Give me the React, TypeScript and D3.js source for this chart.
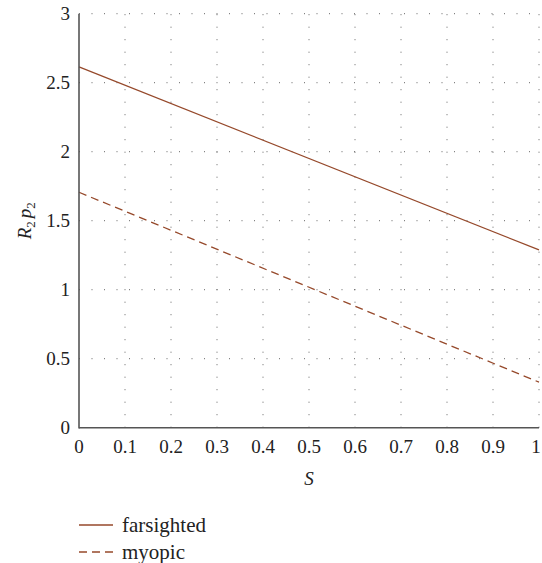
import React from 'react';
import * as d3 from 'd3';

const sValues = [0, 1];
const farsighted = [2.614, 1.288];
const myopic = [1.706, 0.33];
const xTicks = [0, 0.1, 0.2, 0.3, 0.4, 0.5, 0.6, 0.7, 0.8, 0.9, 1];
const yTicks = [0, 0.5, 1, 1.5, 2, 2.5, 3];
const seriesNames = ['farsighted', 'myopic'];

const W = 542;
const H = 563;
const margin = { top: 13.7, right: 3, bottom: 135.3, left: 79 };
const lineColor = '#96492b';
const txt = { fontFamily: 'Liberation Serif' };

export default function App() {
  const x = d3.scaleLinear().domain([0, 1]).range([margin.left, W - margin.right]);
  const y = d3.scaleLinear().domain([0, 3]).range([H - margin.bottom, margin.top]);

  const line = d3
    .line<number>()
    .x((_, i) => x(sValues[i]))
    .y((d) => y(d));

  const x0 = x(0);
  const x1 = x(1);
  const y0 = y(0);
  const y1 = y(3);

  return (
    <svg width={W} height={H} style={{ position: 'absolute', left: 0, top: 0 }}>
      {/* grid */}
      {xTicks.slice(1).map((t) => (
        <line key={'gx' + t} x1={x(t)} x2={x(t)} y1={y0} y2={y1} stroke="#666" strokeWidth={1} strokeDasharray="1 11.5" />
      ))}
      {yTicks.slice(1).map((t) => (
        <line key={'gy' + t} x1={x0} x2={x1} y1={y(t)} y2={y(t)} stroke="#666" strokeWidth={1} strokeDasharray="1 11.5" />
      ))}

      {/* series */}
      <path d={line(farsighted) || ''} fill="none" stroke={lineColor} strokeWidth={1.3} />
      <path d={line(myopic) || ''} fill="none" stroke={lineColor} strokeWidth={1.3} strokeDasharray="8 5" />

      {/* axes */}
      <line x1={x0} x2={x0} y1={y1} y2={y0 + 0.8} stroke="#555" strokeWidth={1.6} />
      <line x1={x0} x2={x1} y1={y0} y2={y0} stroke="#555" strokeWidth={1.6} />

      {yTicks.map((t) => (
        <text key={'yl' + t} x={70} y={y(t)} dy="0.35em" textAnchor="end" fill="#222" style={{ ...txt, fontSize: '19px' }}>
          {t}
        </text>
      ))}
      {xTicks.map((t) => (
        <text
          key={'xl' + t}
          x={Math.min(x(t), W - 6)}
          y={y0 + 25}
          textAnchor="middle"
          fill="#222"
          style={{ ...txt, fontSize: '19px' }}
        >
          {t}
        </text>
      ))}

      <text x={x(0.5)} y={y0 + 57} textAnchor="middle" fontStyle="italic" fill="#222" style={{ ...txt, fontSize: '19px' }}>
        S
      </text>
      <text transform={`translate(31, ${y(1.5)}) rotate(-90)`} textAnchor="middle" fontStyle="italic" fill="#222" style={{ ...txt, fontSize: '19px' }}>
        R<tspan style={{ fontSize: '13px' }} dy={4} fontStyle="normal">2</tspan>
        <tspan dy={-4} dx={3}>p</tspan>
        <tspan style={{ fontSize: '13px' }} dy={4} fontStyle="normal">2</tspan>
      </text>

      {/* legend */}
      {seriesNames.map((name, i) => (
        <g key={name} transform={`translate(79, ${525 + i * 27})`}>
          <line x1={0} x2={34} y1={0} y2={0} stroke={lineColor} strokeWidth={1.3} strokeDasharray={i === 1 ? '8 5' : undefined} />
          <text x={43} y={0} dy="0.32em" fill="#222" style={{ ...txt, fontSize: '21px' }}>
            {name}
          </text>
        </g>
      ))}
    </svg>
  );
}
